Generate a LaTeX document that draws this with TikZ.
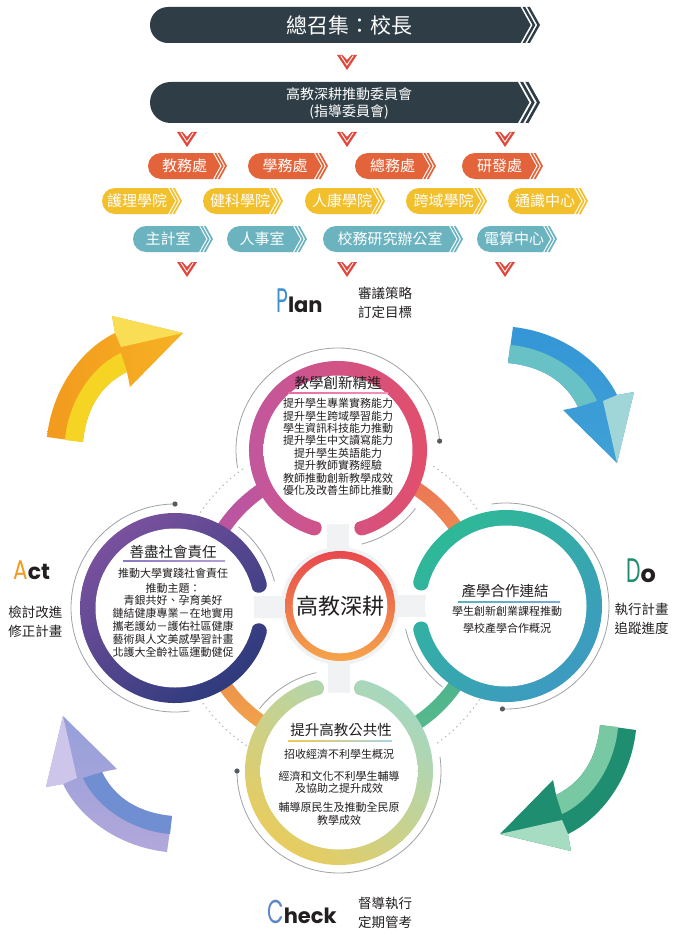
\documentclass[tikz,border=0pt]{standalone}
\usepackage{fontspec}
\usepackage{graphicx}
\setmainfont{Noto Sans CJK TC}
\newfontfamily\cjk{Noto Sans CJK TC}
\newfontfamily\latfont{Poppins}
\usetikzlibrary{calc}
\definecolor{barc}{HTML}{2F3E46}
\definecolor{orgc}{HTML}{E3643A}
\definecolor{yelc}{HTML}{F2BF2D}
\definecolor{tealc}{HTML}{6AB3BF}
\definecolor{markred}{HTML}{E2453A}
\definecolor{txt}{HTML}{231F20}
\definecolor{arcgrey}{HTML}{9DA3A7}
\definecolor{dotgrey}{HTML}{B9BEC1}
\definecolor{dotc}{HTML}{555B5F}
\definecolor{diskedge}{HTML}{E6E9EB}
\definecolor{neckc}{HTML}{F0F2F3}
\definecolor{pblue}{HTML}{3D8ED2}
\definecolor{aorange}{HTML}{F29A1E}
\definecolor{dgreen}{HTML}{1E8C6E}
\definecolor{cblue}{HTML}{5B87C9}
\pgfdeclareradialshading{diskshade}{\pgfpoint{0bp}{0bp}}{color(0bp)=(white); color(30bp)=(white); color(50bp)=(diskedge)}
\tikzset{
  boxtxt/.style={font=\cjk\fontsize{15}{15}\selectfont, text=white, inner sep=0pt},
  ctitle/.style={font=\cjk\fontsize{14.5}{16}\selectfont, text=txt, inner sep=0pt},
  ctext/.style={font=\cjk\fontsize{11}{12.4}\selectfont, text=txt, align=center, inner sep=0pt},
  sidetxt/.style={font=\cjk\fontsize{13.5}{19}\selectfont, text=txt, align=center, inner sep=0pt},
  greyarc/.style={draw=arcgrey, line width=0.8pt},
  dotarc/.style={draw=dotgrey, line width=1.8pt, line cap=round, dash pattern=on 0pt off 5pt},
}
% tag shape: xl, yt, xr, yb, colour
\newcommand\tagbox[5]{%
  \pgfmathsetmacro\bxH{#4-#2}%
  \pgfmathsetmacro\bxR{\bxH/2}%
  \pgfmathsetmacro\bxM{(#2+#4)/2}%
  \pgfmathsetmacro\bxD{0.28*\bxH}%
  \pgfmathsetmacro\bxG{0.055*\bxH}%
  \pgfmathsetmacro\bxW{0.075*\bxH}%
  \pgfmathsetmacro\bxT{#3-2*(\bxG+\bxW)}%
  \pgfmathsetmacro\bxA{\bxT-\bxD+\bxG}%
  \pgfmathsetmacro\bxB{\bxA+\bxW+\bxG}%
  \fill[#5] (#1+\bxR,#2) -- (\bxT-\bxD,#2) -- (\bxT,\bxM) -- (\bxT-\bxD,#4) -- (#1+\bxR,#4) arc[start angle=90,end angle=270,radius=\bxR] -- cycle;
  \fill[#5] (\bxA,#2) -- ++(\bxW,0) -- ++(\bxD,\bxR) -- ++(-\bxD,\bxR) -- ++(-\bxW,0) -- ++(\bxD,-\bxR) -- cycle;
  \fill[#5] (\bxB,#2) -- ++(\bxW,0) -- ++(\bxD,\bxR) -- ++(-\bxD,\bxR) -- ++(-\bxW,0) -- ++(\bxD,-\bxR) -- cycle;
}
\newcommand\redmark[2]{%
  \fill[markred] (#1-10,#2) -- (#1-4.5,#2) -- (#1,#2+5) -- (#1+4.5,#2) -- (#1+10,#2) -- (#1,#2+15) -- cycle;
  \draw[white, line width=0.9pt] (#1-6.3,#2+0.6) -- (#1,#2+10) -- (#1+6.3,#2+0.6);
}
% ring segment with round caps: centre, start, end, mid radius, half width, options
\newcommand\ringseg[6]{%
  \path[#6] ($(#1)+(#2:#4+#5)$) arc[start angle=#2,end angle=#3,radius=#4+#5]
    arc[start angle=#3,end angle=#3+180,radius=#5]
    arc[start angle=#3,end angle=#2,radius=#4-#5]
    arc[start angle=#2+180,end angle=#2+360,radius=#5] -- cycle;
}
% plain annular sector
\newcommand\annsec[6]{%
  \path[#6] ($(#1)+(#2:#4+#5)$) arc[start angle=#2,end angle=#3,radius=#4+#5]
    -- ($(#1)+(#3:#4-#5)$) arc[start angle=#3,end angle=#2,radius=#4-#5] -- cycle;
}
% curved PDCA arrow: transform, main, inner strip, head highlight
\newcommand\pdcaarrow[4]{%
  \begin{scope}[#1]
  \path[#2] (47,437) .. controls (52,390) and (80,350) .. (115,333) -- (112,316) -- (183,333) -- (130,387) -- (127,372) .. controls (100,385) and (86,410) .. (83,442) -- cycle;
  \path[#3] (65,440) .. controls (68,402) and (92,366) .. (121,353) -- (127,372) .. controls (100,385) and (86,410) .. (83,442) -- cycle;
  \path[#4] (112,316) -- (183,333) -- (121,347) -- (115,333) -- cycle;
  \end{scope}
}
\begin{document}
\begin{tikzpicture}[x=1pt,y=-1pt]
\useasboundingbox (0,0) rectangle (679,939);
\fill[white] (0,0) rectangle (679,939);

% ---------------- organisation chart ----------------
\tagbox{150}{7}{540}{43}{barc}
\node[font=\cjk\fontsize{21}{21}\selectfont, text=white, inner sep=0pt] (zzj) at (349,25) {總召集：校長};
\redmark{347}{55}
\tagbox{150}{82}{540}{123}{barc}
\node[font=\cjk\fontsize{14}{17}\selectfont, text=white, align=center, inner sep=0pt] (wyh) at (349,103) {高教深耕推動委員會\\(指導委員會)};
\redmark{187}{132}\redmark{347}{132}\redmark{505}{132}

\tagbox{148}{153}{227}{179}{orgc}
\node[boxtxt] (jwc) at (184.5,166) {教務處};
\tagbox{248}{153}{328}{179}{orgc}
\node[boxtxt] (xwc) at (285,166) {學務處};
\tagbox{355}{153}{436}{179}{orgc}
\node[boxtxt] (zwc) at (392.5,166) {總務處};
\tagbox{462}{153}{543}{179}{orgc}
\node[boxtxt] (yfc) at (499.5,166) {研發處};

\tagbox{102}{188}{182}{214}{yelc}
\node[boxtxt] (hlxy) at (137,201) {護理學院};
\tagbox{203}{188}{283}{214}{yelc}
\node[boxtxt] (jkxy) at (240,201) {健科學院};
\tagbox{305}{188}{385}{214}{yelc}
\node[boxtxt] (rkxy) at (342,201) {人康學院};
\tagbox{406}{188}{487}{214}{yelc}
\node[boxtxt] (kyxy) at (443.5,201) {跨域學院};
\tagbox{508}{188}{588}{214}{yelc}
\node[boxtxt] (tszx) at (545,201) {通識中心};

\tagbox{133}{226}{213}{252}{tealc}
\node[boxtxt] (zjs) at (168,239) {主計室};
\tagbox{227}{226}{307}{252}{tealc}
\node[boxtxt] (rss) at (262,239) {人事室};
\tagbox{323}{226}{463}{252}{tealc}
\node[boxtxt] (xwyj) at (390,239) {校務研究辦公室};
\tagbox{477}{226}{557}{252}{tealc}
\node[boxtxt] (dszx) at (514,239) {電算中心};
\redmark{187}{262}\redmark{347}{262}\redmark{505}{262}

% ---------------- PDCA labels ----------------
\node[anchor=base west, inner sep=0pt, text=txt] (plan) at (276,312) {\latfont\textcolor{pblue}{\fontsize{34}{34}\selectfont\scalebox{0.6}[1]{P}}\fontsize{21}{21}\selectfont\bfseries lan};
\node[sidetxt] (plantx) at (385,302.5) {審議策略\\訂定目標};
\node[anchor=base west, inner sep=0pt, text=txt] (act) at (13,579) {\latfont\textcolor{aorange}{\fontsize{27}{27}\selectfont\scalebox{0.8}[1]{A}}\fontsize{22}{22}\selectfont\bfseries ct};
\node[sidetxt] (acttx) at (35.5,622) {檢討改進\\修正計畫};
\node[anchor=base west, inner sep=0pt, text=txt] (dolbl) at (626,582) {\latfont\textcolor{dgreen}{\fontsize{34}{34}\selectfont\scalebox{0.6}[1]{D}}\fontsize{24}{24}\selectfont\bfseries o};
\node[sidetxt] (dotx) at (641.5,619) {執行計畫\\追蹤進度};
\node[anchor=base west, inner sep=0pt, text=txt] (check) at (267,923) {\latfont\textcolor{cblue}{\fontsize{33}{33}\selectfont\scalebox{0.65}[1]{C}}\fontsize{21}{21}\selectfont\bfseries heck};
\node[sidetxt] (checktx) at (385,912.5) {督導執行\\定期管考};

% ---------------- PDCA arrows ----------------
\pdcaarrow{}{shade, left color=aorange, right color={rgb,255:red,246;green,178;blue,35}}{fill={rgb,255:red,245;green,212;blue,36}}{fill={rgb,255:red,248;green,221;blue,85}}
\pdcaarrow{rotate around={-90:(335,615)}}{shade, top color={rgb,255:red,52;green,150;blue,214}, bottom color={rgb,255:red,64;green,160;blue,214}}{fill={rgb,255:red,103;green,193;blue,197}}{fill={rgb,255:red,160;green,214;blue,216}}
\pdcaarrow{shift={(13,-63)}, rotate around={180:(335,615)}}{fill={rgb,255:red,30;green,141;blue,112}}{fill={rgb,255:red,120;green,200;blue,164}}{fill={rgb,255:red,166;green,220;blue,194}}
\pdcaarrow{shift={(10,-51)}, rotate around={90:(335,615)}}{shade, top color={rgb,255:red,150;green,160;blue,218}, bottom color={rgb,255:red,178;green,167;blue,218}}{fill={rgb,255:red,112;green,142;blue,210}}{fill={rgb,255:red,206;green,197;blue,234}}

% ---------------- circles ----------------
\coordinate (C0) at (340,606);
\coordinate (T) at (338,450);
\coordinate (L) at (175,608);
\coordinate (R) at (506,606);
\coordinate (B) at (339,771);

% dotted arcs
\draw[dotarc] ($(C0)+(214:168)$) arc[start angle=214,end angle=236,radius=168];
\draw[dotarc] ($(C0)+(304:168)$) arc[start angle=304,end angle=326,radius=168];
\draw[dotarc] ($(C0)+(34:168)$) arc[start angle=34,end angle=56,radius=168];
\draw[dotarc] ($(C0)+(124:168)$) arc[start angle=124,end angle=146,radius=168];

% thin grey arcs with dots
\draw[greyarc] ($(T)+(170:102)$) arc[start angle=170,end angle=355,radius=102];
\fill[dotc] ($(T)+(355:102)$) circle (2.6);
\draw[greyarc] ($(R)+(262:103)$) arc[start angle=262,end angle=452,radius=103];
\fill[dotc] ($(R)+(452:103)$) circle (2.6);
\draw[greyarc] ($(B)+(-8:102)$) arc[start angle=-8,end angle=180,radius=102];
\fill[dotc] ($(B)+(180:102)$) circle (2.6);
\draw[greyarc] ($(L)+(82:104)$) arc[start angle=82,end angle=270,radius=104];
\fill[dotc] ($(L)+(270:104)$) circle (2.6);
\draw[greyarc] ($(T)+(37:97)$) arc[start angle=37,end angle=76,radius=97];
\draw[greyarc] ($(R)+(128:103)$) arc[start angle=128,end angle=167,radius=103];
\draw[greyarc] ($(B)+(218:101)$) arc[start angle=218,end angle=257,radius=101];
\draw[greyarc] ($(L)+(308:103)$) arc[start angle=308,end angle=345,radius=103];

% connecting ring
\annsec{C0}{180}{270}{140}{7}{shade, left color={rgb,255:red,184;green,84;blue,160}, right color={rgb,255:red,198;green,88;blue,156}}
\annsec{C0}{270}{360}{140}{7}{shade, top color={rgb,255:red,234;green,110;blue,88}, bottom color={rgb,255:red,244;green,164;blue,74}}
\annsec{C0}{0}{90}{140}{7}{shade, top color={rgb,255:red,62;green,173;blue,136}, bottom color={rgb,255:red,93;green,187;blue,143}}
\annsec{C0}{90}{180}{140}{7}{shade, top color={rgb,255:red,229;green,115;blue,78}, bottom color={rgb,255:red,244;green,174;blue,74}}

% necks
\fill[neckc] (327,515) rectangle (349,560);
\fill[neckc] (328,650) rectangle (350,700);
\fill[neckc] (245,596) rectangle (290,618);
\fill[neckc] (392,595) rectangle (435,617);

% centre halo
\fill[neckc] (C0) circle (59);

% outer rings
\ringseg{T}{107}{433}{81.5}{7.5}{shade, left color={rgb,255:red,192;green,88;blue,160}, right color={rgb,255:red,228;green,78;blue,104}}
\ringseg{L}{15.5}{344.5}{87}{8}{shade, top color={rgb,255:red,126;green,82;blue,160}, bottom color={rgb,255:red,44;green,58;blue,124}, shading angle=40}
\ringseg{R}{195.5}{524.5}{88}{8}{shade, top color={rgb,255:red,46;green,185;blue,150}, bottom color={rgb,255:red,62;green,152;blue,196}, shading angle=40}
\ringseg{B}{285.5}{614.5}{86}{8}{shade, top color={rgb,255:red,164;green,216;blue,194}, bottom color={rgb,255:red,236;green,203;blue,88}, shading angle=-40}

% inner disks
\path[shade, shading=diskshade] (T) circle (74.5);
\path[shade, shading=diskshade] (L) circle (79.5);
\path[shade, shading=diskshade] (R) circle (80.5);
\path[shade, shading=diskshade] (B) circle (78.5);

% centre circle
\path[shade, top color={rgb,255:red,232;green,72;blue,78}, bottom color={rgb,255:red,245;green,165;blue,74}, even odd rule] (C0) circle (55) (C0) circle (47);
\fill[white] (C0) circle (47.3);
\node[font=\cjk\fontsize{22}{22}\selectfont, text=txt, inner sep=0pt] (core) at (340,606) {高教深耕};

% top circle text
\node[ctitle] (t1) at (338,383) {教學創新精進};
\path[shade, left color={rgb,255:red,226;green,110;blue,160}, right color={rgb,255:red,240;green,150;blue,190}] (288,392.3) rectangle (388,393.8);
\node[ctext] (t2) at (338,447) {提升學生專業實務能力\\提升學生跨域學習能力\\學生資訊科技能力推動\\提升學生中文讀寫能力\\提升學生英語能力\\提升教師實務經驗\\教師推動創新教學成效\\優化及改善生師比推動};

% left circle text
\node[ctitle] (l1) at (173,552) {善盡社會責任};
\path[shade, left color={rgb,255:red,140;green,120;blue,190}, right color={rgb,255:red,180;green,160;blue,215}] (123,560.3) rectangle (225,561.8);
\node[ctext] (l2) at (173,573) {推動大學實踐社會責任};
\node[ctext, font=\cjk\fontsize{11}{12.8}\selectfont] (l3) at (173,620) {推動主題：\\青銀共好、孕育美好\\鏈結健康專業－在地實用\\攜老護幼－護佑社區健康\\藝術與人文美感學習計畫\\北護大全齡社區運動健促};

% right circle text
\node[ctitle] (r1) at (505,591) {產學合作連結};
\path[shade, left color={rgb,255:red,90;green,178;blue,190}, right color={rgb,255:red,120;green,170;blue,215}] (458,601.3) rectangle (560,602.8);
\node[ctext, font=\cjk\fontsize{11}{17}\selectfont] (r2) at (507,619.5) {學生創新創業課程推動\\學校產學合作概況};

% bottom circle text
\node[ctitle] (b1) at (341,730) {提升高教公共性};
\path[shade, left color={rgb,255:red,240;green,200;blue,80}, right color={rgb,255:red,170;green,212;blue,230}] (288,740.3) rectangle (392,741.8);
\node[ctext] (b2) at (339,754) {招收經濟不利學生概況};
\node[ctext, font=\cjk\fontsize{11}{12}\selectfont] (b3) at (339,782) {經濟和文化不利學生輔導\\及協助之提升成效};
\node[ctext, font=\cjk\fontsize{11}{13}\selectfont] (b4) at (339,813.5) {輔導原民生及推動全民原\\教學成效};
\end{tikzpicture}
\end{document}
